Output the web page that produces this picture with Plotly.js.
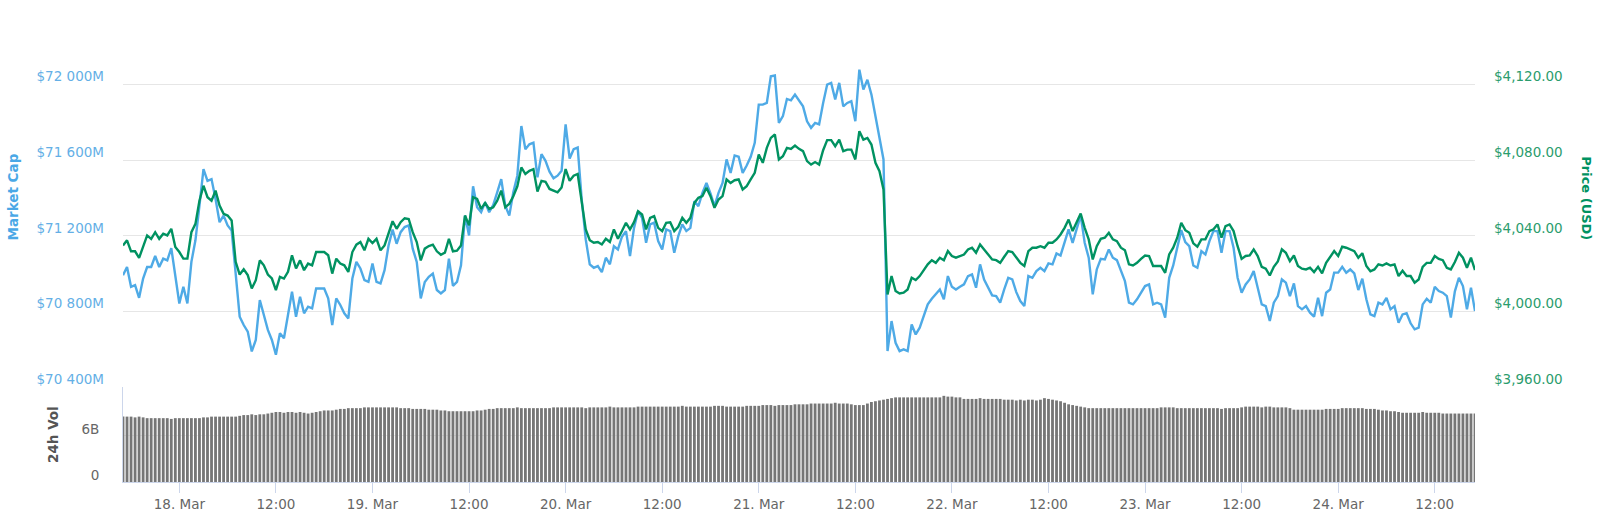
<!DOCTYPE html>
<html>
<head>
<meta charset="utf-8">
<script src="https://cdn.plot.ly/plotly-3.0.1.min.js"></script>
<style>
  body { margin: 0; background: #fff; }
  #graph { width: 1600px; height: 519px; }
</style>
</head>
<body>
<div id="graph"></div>
<script>
// samples every 30 minutes, 17 Mar 2019 17:00 -> 24 Mar 2019 17:00
var firstSample = Date.UTC(2019, 2, 17, 17, 0)
var sampleStep = 30 * 60 * 1000

// market cap, millions USD
var marketCap = [
  70991,71035,70930,70939,70872,70974,71035,71035,71093,71035,
  71079,71070,71135,70974,70842,70930,70842,71062,71176,71360,
  71553,71491,71500,71395,71272,71307,71255,71228,70991,70772,
  70728,70693,70588,70649,70860,70781,70702,70649,70571,70685,
  70658,70781,70904,70772,70877,70790,70825,70816,70921,70921,
  70921,70869,70728,70869,70834,70790,70763,
  70974,71062,71027,70965,70956,71053,70956,70948,71018,71149,
  71233,71158,71219,71246,71255,71132,71062,70869,70956,70983,
  71000,70913,70895,70913,71079,70935,70956,71044,71307,71202,
  71462,71351,71325,71377,71325,71363,71430,71500,71360,71307,
  71430,71518,71781,71658,71684,71693,71509,71632,71597,71539,
  71504,71518,71544,71790,71609,71658,71667,
  71392,71181,71049,71031,71040,71008,71084,71049,71145,71128,
  71195,71225,71093,71242,71330,71295,71163,71260,71269,71172,
  71128,71234,71225,71110,71198,71260,71225,71242,71383,71357,
  71427,71480,71424,71357,71427,71480,71604,71533,71625,71618,
  71533,71572,71618,71692,71894,71894,71903,72044,72048,71797,
  71833,71924,71917,71947,71917,71885,71806,
  71771,71797,71789,71903,72000,72009,71921,72009,71885,71903,
  71912,71806,72079,71974,72026,71947,71833,71723,71604,70590,
  70749,70634,70590,70599,70590,70731,70678,70714,70779,70837,
  70867,70890,70916,70864,70987,70930,70916,70930,70943,70987,
  70996,70925,71049,70969,70925,70885,70881,70846,70916,70978,
  70969,70902,70855,70828,70987,70978,71013,
  71031,71013,71054,71049,71107,71096,71163,71234,71163,71242,
  71308,71163,71084,70890,71022,71078,71075,71128,71084,71071,
  71013,70960,70846,70837,70864,70899,70934,70943,70837,70846,
  70837,70767,70978,71043,71137,71230,71167,71145,71043,71031,
  71119,71101,71172,71225,71225,71110,71225,71225,71137,70978,
  70899,70943,70969,71013,70925,70837,70828,
  70749,70846,70881,70969,70952,70881,70948,70828,70811,70828,
  70793,70772,70872,70775,70899,70916,71005,71005,71036,71005,
  71022,71001,70913,70973,70864,70784,70775,70846,70837,70872,
  70811,70828,70740,70784,70790,70737,70705,70714,70837,70867,
  70846,70930,70908,70899,70881,70767,70906,70978,70934,70811,
  70925,70802
]

// price, USD
var price = [
  4034.9,4037.6,4031.8,4031.8,4028.3,4034.1,4040.2,4038.4,4041.9,4038.4,
  4041.1,4040.2,4043.7,4034.1,4031.4,4027.9,4027.9,4041.9,4046.3,4058.6,
  4066.5,4060.4,4058.6,4063.9,4056.0,4051.6,4050.7,4048.1,4026.2,4019.5,
  4022.3,4019.2,4012.1,4016.5,4027.0,4024.4,4019.5,4017.4,4011.3,4018.3,
  4017.4,4020.9,4029.7,4022.7,4027.0,4021.8,4025.3,4024.4,4031.4,4031.4,
  4031.4,4029.7,4020.0,4027.9,4025.3,4024.4,4020.9,
  4031.4,4035.3,4036.7,4032.3,4038.4,4036.2,4038.4,4032.3,4034.9,4041.9,
  4047.7,4043.7,4047.2,4049.3,4048.9,4041.9,4036.7,4027.0,4033.2,4034.6,
  4035.3,4031.8,4030.0,4031.1,4038.4,4031.8,4032.1,4034.9,4050.7,4045.5,
  4060.4,4059.5,4054.2,4057.4,4054.2,4055.1,4058.6,4063.9,4055.1,4056.9,
  4060.9,4066.2,4076.2,4072.7,4074.4,4075.3,4063.4,4069.1,4068.6,4064.8,
  4063.9,4063.0,4065.6,4075.3,4069.1,4071.8,4072.7,
  4057.4,4043.4,4037.7,4036.3,4036.7,4035.4,4038.4,4036.7,4043.4,4038.4,
  4042.5,4046.9,4043.4,4047.2,4053.0,4051.3,4043.4,4049.5,4050.4,4044.2,
  4042.5,4046.9,4047.2,4042.5,4044.8,4049.5,4046.9,4049.5,4057.4,4060.1,
  4061.0,4065.4,4061.0,4054.8,4059.2,4061.0,4069.8,4068.0,4069.4,4069.8,
  4064.5,4066.3,4069.8,4073.3,4083.0,4078.6,4086.5,4091.8,4093.6,4080.4,
  4082.1,4086.5,4086.0,4087.8,4086.0,4084.8,4079.5,
  4077.7,4079.0,4077.7,4085.3,4090.6,4090.6,4087.4,4090.9,4084.8,4085.6,
  4085.6,4080.4,4095.3,4090.9,4091.8,4088.3,4078.6,4074.2,4064.5,4009.0,
  4018.7,4010.8,4009.5,4009.9,4011.6,4017.8,4016.6,4018.7,4021.9,4024.9,
  4027.1,4025.7,4028.4,4027.1,4031.9,4029.3,4028.4,4029.3,4030.1,4032.8,
  4033.7,4031.0,4035.4,4032.8,4030.1,4027.5,4027.1,4025.7,4028.9,4031.9,
  4031.4,4028.4,4025.7,4024.0,4031.9,4033.7,4033.7,
  4034.5,4033.7,4036.3,4036.3,4038.1,4040.7,4044.2,4048.6,4042.5,4046.9,
  4051.8,4044.2,4038.1,4027.5,4034.5,4038.4,4039.0,4041.6,4038.1,4037.2,
  4033.7,4032.4,4024.9,4024.3,4025.7,4027.8,4029.6,4029.3,4024.0,4024.0,
  4024.0,4020.4,4030.1,4033.7,4039.0,4046.9,4043.0,4041.6,4036.0,4034.2,
  4038.1,4038.1,4042.5,4043.4,4046.0,4039.0,4045.1,4046.0,4042.5,4034.5,
  4027.8,4029.3,4029.6,4032.8,4029.3,4023.6,4022.6,
  4019.0,4023.6,4026.4,4032.8,4031.0,4026.6,4029.6,4024.0,4022.6,4022.2,
  4023.1,4020.8,4023.6,4020.1,4025.7,4028.9,4031.9,4029.3,4034.2,4033.7,
  4033.0,4031.9,4028.4,4030.8,4024.0,4021.2,4022.2,4024.9,4024.3,4025.4,
  4024.3,4024.9,4018.7,4021.5,4018.7,4018.7,4015.2,4016.9,4023.6,4025.7,
  4025.7,4029.3,4027.8,4027.1,4023.1,4022.2,4026.1,4031.0,4028.4,4023.1,
  4028.4,4021.9
]

// 24h volume, billions USD
var volume = [
  8.5,8.5,8.5,8.4,8.5,8.4,
  8.3,8.3,8.3,8.3,8.3,8.3,8.2,8.3,8.3,8.3,8.3,8.3,8.3,8.3,
  8.4,8.4,8.5,8.5,8.5,8.5,8.5,8.5,8.5,8.6,
  8.7,8.7,8.8,8.7,8.8,8.8,8.9,
  9.0,9.1,9.1,9.0,9.1,9.1,9.0,9.1,
  9.0,8.9,9.0,9.1,
  9.2,9.3,9.3,9.3,9.4,
  9.5,9.5,9.6,9.6,9.6,9.6,9.7,9.7,9.7,9.7,
  9.7,9.7,9.7,9.7,9.7,9.6,
  9.6,9.6,9.5,9.5,9.5,9.5,9.4,9.4,9.4,9.3,
  9.3,9.2,9.2,9.2,9.2,9.2,9.2,9.2,9.3,9.3,9.4,9.5,
  9.5,9.6,9.6,9.6,9.6,9.6,9.7,9.6,9.6,9.6,9.6,9.6,9.6,9.6,9.6,9.7,9.7,
  9.7,9.7,9.7,9.7,9.7,9.7,9.6,9.7,9.7,9.7,9.7,9.7,9.8,9.7,9.7,9.7,9.7,9.7,9.7,9.8,9.8,9.8,9.8,
  9.8,9.8,9.8,9.8,9.8,9.8,9.8,9.9,9.8,9.8,9.8,9.8,9.8,9.8,9.8,9.9,9.9,9.9,9.8,9.8,9.8,9.8,9.8,9.9,9.9,9.9,9.9,
  10.0,10.0,10.0,9.9,10.0,10.0,10.0,10.0,10.1,10.1,10.1,10.1,10.2,10.2,10.2,
  10.2,10.2,10.2,10.3,10.2,10.2,10.2,10.1,
  10.0,10.0,10.0,
  10.2,10.4,10.5,10.6,
  10.7,10.8,10.9,
  11.0,11.0,11.0,11.0,11.0,11.0,11.0,11.0,11.0,11.0,11.0,11.0,
  11.2,11.1,11.1,
  11.0,11.0,
  10.8,10.8,10.8,10.8,10.9,10.8,10.8,10.8,10.8,10.8,
  10.7,10.7,10.7,10.6,10.7,10.6,10.7,10.7,10.6,10.7,
  10.9,10.8,
  10.7,10.6,10.5,
  10.3,10.1,10.0,9.9,9.8,
  9.7,9.6,9.6,9.6,9.6,
  9.6,9.6,9.6,9.6,9.6,9.6,9.6,9.6,9.6,9.6,9.6,9.6,9.6,9.6,9.7,9.7,9.7,9.7,9.6,9.6,9.6,9.6,9.6,9.6,9.6,
  9.6,9.6,9.6,9.6,9.5,9.6,9.6,9.6,9.6,9.7,
  9.8,9.8,9.8,9.8,9.7,9.8,9.8,
  9.7,9.7,9.7,9.7,9.6,
  9.4,9.4,9.4,9.4,9.4,9.4,9.4,9.4,9.5,9.5,9.5,9.5,
  9.6,9.6,9.6,9.6,9.6,9.6,9.5,9.5,9.5,9.4,
  9.3,9.3,9.2,9.2,9.1,
  9.0,9.0,9.0,9.0,9.0,9.1,9.0,9.0,9.0,9.0,
  8.9,8.9,8.9,8.9,8.9,8.9,8.9,8.9,8.9
]

var capTicks = [70400, 70800, 71200, 71600, 72000, 72400]
var capTickText = ["$70 400M", "$70 800M", "$71 200M", "$71 600M", "$72 000M", ""]
var priceTicks = [3960, 4000, 4040, 4080, 4120, 4160]
var priceTickText = ["$3,960.00", "$4,000.00", "$4,040.00", "$4,080.00", "$4,120.00", ""]
var volTicks = [0, 6]
var volTickText = ["0", "6B"]
var dateTicks = [
  "2019-03-18 00:00", "2019-03-18 12:00", "2019-03-19 00:00", "2019-03-19 12:00",
  "2019-03-20 00:00", "2019-03-20 12:00", "2019-03-21 00:00", "2019-03-21 12:00",
  "2019-03-22 00:00", "2019-03-22 12:00", "2019-03-23 00:00", "2019-03-23 12:00",
  "2019-03-24 00:00", "2019-03-24 12:00"
]
var dateTickText = [
  "18. Mar", "12:00", "19. Mar", "12:00", "20. Mar", "12:00", "21. Mar", "12:00",
  "22. Mar", "12:00", "23. Mar", "12:00", "24. Mar", "12:00"
]

var times = marketCap.map(function (v, i) { return firstSample + i * sampleStep })

var blue = "#4eaae6"
var green = "#009261"
var split = 95 / 473   // volume panel share of the plot height

var volTrace = {
  x: times, y: volume, type: "bar", yaxis: "y3",
  marker: { color: "#767676", line: { width: 0 } },
  hoverinfo: "skip"
}
var capTrace = {
  x: times, y: marketCap, type: "scatter", mode: "lines", name: "Market Cap",
  line: { color: blue, width: 2.4 }
}
var priceTrace = {
  x: times, y: price, type: "scatter", mode: "lines", name: "Price (USD)", yaxis: "y2",
  line: { color: green, width: 2.4 }
}

var layout = {
  width: 1600,
  height: 519,
  margin: { l: 123, r: 125, t: 9, b: 37 },
  paper_bgcolor: "#ffffff",
  plot_bgcolor: "#ffffff",
  showlegend: false,
  bargap: 0.3,
  font: { family: "DejaVu Sans, sans-serif", size: 13.5, color: "#666666" },
  xaxis: {
    type: "date",
    range: [firstSample, firstSample + (marketCap.length - 1) * sampleStep],
    anchor: "y3",
    tickvals: dateTicks,
    ticktext: dateTickText,
    ticks: "outside",
    ticklen: 10,
    tickcolor: "#ccd6eb",
    showline: true,
    linecolor: "#ccd6eb",
    showgrid: false,
    zeroline: false,
    tickfont: { color: "#666666", size: 13.5 }
  },
  yaxis: {
    domain: [split, 1],
    range: [70400, 72400],
    tickvals: capTicks,
    ticktext: capTickText,
    gridcolor: "#e6e6e6",
    zeroline: false,
    ticklabelshift: -8,
    ticklabelstandoff: 18,
    tickfont: { color: "#64afe6", size: 13.5 }
  },
  yaxis2: {
    overlaying: "y",
    side: "right",
    range: [3960, 4160],
    tickvals: priceTicks,
    ticktext: priceTickText,
    showgrid: false,
    zeroline: false,
    ticklabelshift: -8,
    ticklabelstandoff: 18,
    tickfont: { color: "#2b9c6d", size: 13.5 }
  },
  yaxis3: {
    domain: [0, split],
    range: [0, 12.35],
    tickvals: volTicks,
    ticktext: volTickText,
    gridcolor: "#ececec",
    zeroline: false,
    showline: true,
    linecolor: "#ccd6eb",
    ticklabelshift: -7,
    ticklabelstandoff: 20,
    tickfont: { color: "#666666", size: 13.5 }
  },
  annotations: [
    { text: "Market Cap", xref: "paper", yref: "paper", x: -0.081, y: 0.6025,
      textangle: -90, showarrow: false, xanchor: "center", yanchor: "middle",
      font: { color: "#4aa8e6", size: 13.5, weight: "bold" } },
    { text: "Price (USD)", xref: "paper", yref: "paper", x: 1.0828, y: 0.600,
      textangle: 90, showarrow: false, xanchor: "center", yanchor: "middle",
      font: { color: green, size: 13, weight: "bold" } },
    { text: "24h Vol", xref: "paper", yref: "paper", x: -0.0518, y: 0.1015,
      textangle: -90, showarrow: false, xanchor: "center", yanchor: "middle",
      font: { color: "#555555", size: 13.5, weight: "bold" } }
  ]
}

Plotly.newPlot("graph", [volTrace, capTrace, priceTrace], layout, { displayModeBar: false, staticPlot: true })
</script>
</body>
</html>
